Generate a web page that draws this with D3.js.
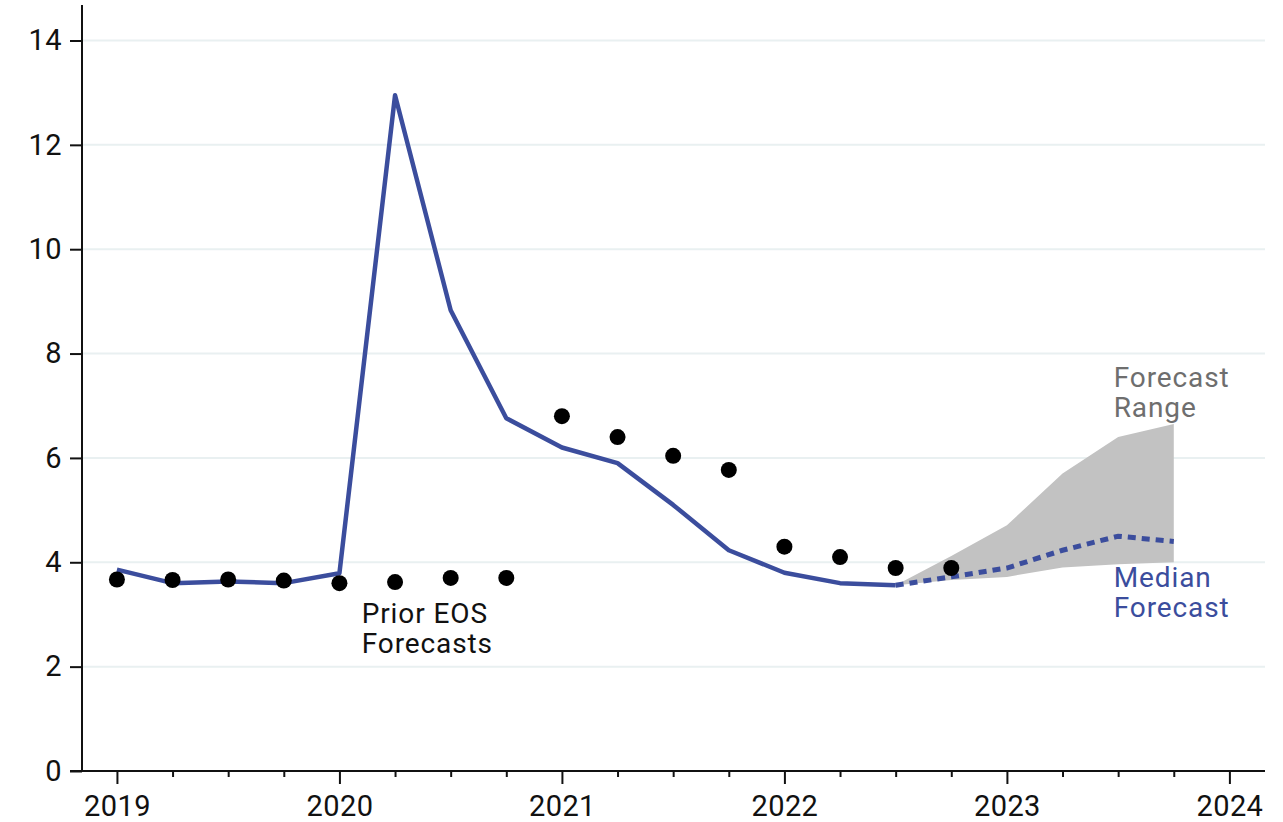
<!DOCTYPE html>
<html>
<head>
<meta charset="utf-8">
<script src="https://cdn.jsdelivr.net/npm/d3@7"></script>
<style>
  body { margin: 0; background: #fff; }
  svg { font-family: Roboto, "Noto Sans", sans-serif; }
</style>
</head>
<body>
<div class="chart"></div>
<script>
// quarters as decimal years
var quarters = [2019, 2019.25, 2019.5, 2019.75, 2020, 2020.25, 2020.5, 2020.75,
  2021, 2021.25, 2021.5, 2021.75, 2022, 2022.25, 2022.5];
var actual = [3.86, 3.6, 3.63, 3.6, 3.79, 12.95, 8.83, 6.76,
  6.2, 5.9, 5.1, 4.23, 3.8, 3.6, 3.56];

var priorQuarters = [2019, 2019.25, 2019.5, 2019.75, 2020, 2020.25, 2020.5, 2020.75,
  2021, 2021.25, 2021.5, 2021.75, 2022, 2022.25, 2022.5, 2022.75];
var priorForecasts = [3.67, 3.66, 3.67, 3.65, 3.6, 3.62, 3.7, 3.7,
  6.8, 6.4, 6.04, 5.77, 4.3, 4.1, 3.89, 3.89];

var forecastQuarters = [2022.5, 2022.75, 2023, 2023.25, 2023.5, 2023.75];
var medianForecast = [3.56, 3.72, 3.89, 4.23, 4.5, 4.4];
var rangeLow = [3.56, 3.66, 3.72, 3.9, 3.96, 4.0];
var rangeHigh = [3.56, 4.12, 4.71, 5.7, 6.4, 6.65];

var yTicks = [0, 2, 4, 6, 8, 10, 12, 14];
var xTicks = d3.range(2019, 2024.01, 0.25);

var margin = { top: 5, right: 18, bottom: 51, left: 82 };
var width = 1283 - margin.left - margin.right;
var height = 822 - margin.top - margin.bottom;

var svg = d3.select('.chart')
  .append('svg')
    .attr('width', width + margin.left + margin.right)
    .attr('height', height + margin.top + margin.bottom)
  .append('g')
    .attr('transform', `translate(${margin.left}, ${margin.top})`);

var x = d3.scaleLinear()
  .domain([2018.843, 2024.16])
  .range([0, width]);

var y = d3.scaleLinear()
  .domain([0, 14.68])
  .range([height, 0]);

var blue = '#3b4d9d';

// gridlines
svg.append('g')
  .selectAll('line')
  .data(yTicks.filter(d => d > 0))
  .join('line')
    .attr('x1', 0)
    .attr('x2', width)
    .attr('y1', d => y(d))
    .attr('y2', d => y(d))
    .style('stroke', '#e9f0f1')
    .style('stroke-width', 2);

// forecast range band
var band = forecastQuarters.map((q, i) => ({ q: q, lo: rangeLow[i], hi: rangeHigh[i] }));
svg.append('path')
  .datum(band)
  .attr('d', d3.area().x(d => x(d.q)).y0(d => y(d.lo)).y1(d => y(d.hi)))
  .style('fill', '#c2c2c2');

// actual line
var line = d3.line().x(d => x(d[0])).y(d => y(d[1]));
svg.append('path')
  .datum(d3.zip(quarters, actual))
  .attr('d', line)
  .style('fill', 'none')
  .style('stroke', blue)
  .style('stroke-width', 4.5)
  .style('stroke-linejoin', 'round');

// median forecast (dashed)
svg.append('path')
  .datum(d3.zip(forecastQuarters, medianForecast))
  .attr('d', line)
  .style('fill', 'none')
  .style('stroke', blue)
  .style('stroke-width', 5)
  .style('stroke-dasharray', '8,6');

// prior EOS forecast dots
svg.append('g')
  .selectAll('circle')
  .data(d3.zip(priorQuarters, priorForecasts))
  .join('circle')
    .attr('cx', d => x(d[0]))
    .attr('cy', d => y(d[1]))
    .attr('r', 8)
    .style('fill', '#000');

// y axis
var yAxis = d3.axisLeft(y)
  .tickValues(yTicks)
  .tickSize(12)
  .tickPadding(8);
var gy = svg.append('g').call(yAxis);
gy.select('.domain').attr('d', `M0,${height}V0`);

// x axis
var xAxis = d3.axisBottom(x)
  .tickValues(xTicks)
  .tickSize(6)
  .tickPadding(16)
  .tickFormat(d => Number.isInteger(d) ? d : '');
var gx = svg.append('g')
  .attr('transform', `translate(0, ${height})`)
  .call(xAxis);
gx.select('.domain').attr('d', `M${-12},0H${width}`);
gx.selectAll('.tick line')
  .attr('y2', d => Number.isInteger(d) ? 13 : 6);
gx.selectAll('.tick text').attr('dy', '0.71em').attr('y', 24);

svg.selectAll('.domain').style('stroke', '#111').style('stroke-width', 2);
svg.selectAll('.tick line').style('stroke', '#111').style('stroke-width', 2);
svg.selectAll('.tick text')
  .style('font-size', '29px')
  .style('letter-spacing', '0.4px')
  .style('font-family', 'Roboto, sans-serif')
  .style('fill', '#111');

// annotations
function label(lines, px, py, color) {
  var t = svg.append('text')
    .attr('x', px)
    .attr('y', py)
    .style('font-size', '28px')
    .style('letter-spacing', '0.9px')
    .style('fill', color);
  lines.forEach((s, i) => {
    t.append('tspan').attr('x', px).attr('dy', i ? 30 : 0).text(s);
  });
}
label(['Forecast', 'Range'], x(2023.48), y(7.36), '#6e6e6e');
label(['Median', 'Forecast'], x(2023.48), y(3.53), blue);
label(['Prior EOS', 'Forecasts'], x(2020.1), y(2.84), '#111');
</script>
</body>
</html>
